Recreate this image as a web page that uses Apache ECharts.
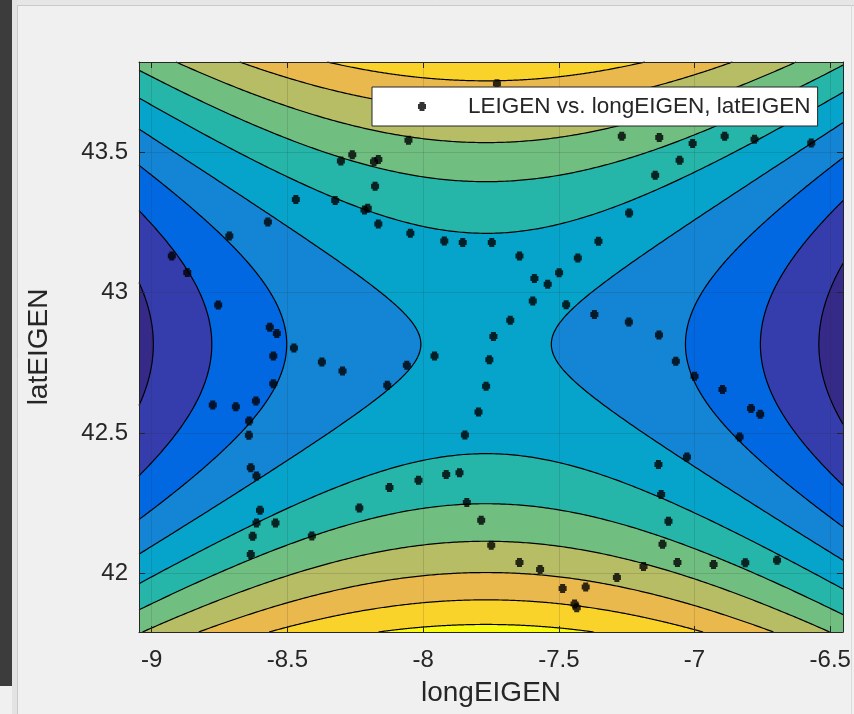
<!DOCTYPE html>
<html>
<head>
<meta charset="utf-8">
<script src="https://cdn.jsdelivr.net/npm/echarts@6/dist/echarts.min.js"></script>
<style>
  html, body { margin: 0; padding: 0; background: #f0f0f0; }
  #chart { width: 854px; height: 714px; }
</style>
</head>
<body>
<div id="chart"></div>
<script>
// ---- measured points ----
const longEIGEN = [
  -7.728, -8.054, -8.261, -8.303, -8.181, -8.165, -8.177, -8.469, -8.324, -8.216,
  -8.204, -8.165, -8.572, -8.047, -7.922, -7.854, -7.747, -8.714, -8.926, -8.869,
  -8.755, -8.565, -8.539, -7.268, -7.130, -7.007, -6.889, -6.779, -6.570, -7.055,
  -7.145, -7.241, -7.354, -7.645, -7.430, -7.499, -7.590, -7.541, -7.596, -7.473,
  -7.679, -7.369, -7.242, -7.741, -7.131, -8.476, -8.552, -8.373, -8.297, -8.060,
  -7.958, -7.756, -8.552, -8.132, -7.768, -8.775, -8.690, -8.616, -8.641, -8.642,
  -7.796, -7.846, -8.635, -8.614, -8.601, -8.614, -8.544, -8.628, -8.635, -8.410,
  -8.235, -8.124, -8.017, -7.915, -7.866, -7.839, -7.786, -7.749, -7.645, -7.569,
  -7.486, -7.401, -7.442, -7.434, -7.286, -7.188, -7.063, -6.930, -6.813, -6.696,
  -7.118, -7.096, -7.123, -7.133, -7.028, -6.834, -6.758, -6.792, -6.897, -7.000,
  -7.069
];
const latEIGEN = [
  43.743, 43.542, 43.490, 43.468, 43.465, 43.473, 43.378, 43.331, 43.327, 43.293,
  43.300, 43.244, 43.251, 43.211, 43.183, 43.178, 43.178, 43.201, 43.130, 43.071,
  42.955, 42.876, 42.854, 43.556, 43.551, 43.530, 43.556, 43.545, 43.532, 43.470,
  43.417, 43.283, 43.182, 43.130, 43.123, 43.070, 43.050, 43.029, 42.970, 42.956,
  42.901, 42.922, 42.895, 42.843, 42.849, 42.802, 42.774, 42.753, 42.721, 42.741,
  42.774, 42.761, 42.675, 42.670, 42.666, 42.600, 42.593, 42.614, 42.543, 42.492,
  42.575, 42.493, 42.376, 42.347, 42.225, 42.180, 42.180, 42.133, 42.068, 42.134,
  42.233, 42.306, 42.332, 42.352, 42.359, 42.253, 42.190, 42.101, 42.039, 42.014,
  41.947, 41.952, 41.892, 41.878, 41.986, 42.025, 42.039, 42.032, 42.038, 42.047,
  42.104, 42.186, 42.281, 42.388, 42.415, 42.486, 42.567, 42.587, 42.655, 42.702,
  42.755
];

// ---- axes ----
const longRange = [-9.0468, -6.453];
const latRange = [41.792, 43.820];
const longTicks = [-9, -8.5, -8, -7.5, -7, -6.5];
const latTicks = [42, 42.5, 43, 43.5];

// ---- fitted LEIGEN surface ----
// saddle centre (longEIGEN, latEIGEN)
const fitCentre = [-7.768, 42.8114];
// coefficient of (long - long0)^2
const fitLongCoef = [-2.0755];
// coefficients of 1, d, d^2, d^3 with d = lat - lat0
const fitLatCoef = [4.12, -0.0528, 5.733, -0.184];
const contourLevels = [1, 2, 3, 4, 5, 6, 7, 8, 9, 10];

// parula bands, lowest to highest
const bandColors = [
  'rgb(53,42,135)', 'rgb(53,61,173)', 'rgb(2,104,225)', 'rgb(20,133,212)',
  'rgb(6,164,202)', 'rgb(37,181,169)', 'rgb(113,191,128)', 'rgb(183,189,100)',
  'rgb(233,185,78)', 'rgb(250,211,42)', 'rgb(249,251,14)'
];

const seriesName = 'LEIGEN vs. longEIGEN, latEIGEN';
const FONT = '"Liberation Sans", Arial, Helvetica, sans-serif';
const INK = '#262626';
const MARKER = 'path://M1.5,0H6.5V2H8V7H6.5V9H1.5V7H0V2H1.5Z';

function leigen(lon, lat) {
  const u = lon - fitCentre[0];
  const v = lat - fitCentre[1];
  const c = fitLatCoef;
  return c[0] + v * (c[1] + v * (c[2] + v * c[3])) + fitLongCoef[0] * u * u;
}

function bisect(f, a, b) {
  let fa = f(a);
  for (let i = 0; i < 50; i++) {
    const m = (a + b) / 2;
    const fm = f(m);
    if ((fm >= 0) === (fa >= 0)) { a = m; fa = fm; } else { b = m; }
  }
  return (a + b) / 2;
}

const SAMPLES = 260;
const saddleValue = leigen(fitCentre[0], fitCentre[1]);

// For a level above the saddle: the regions LEIGEN >= level (top and bottom).
// For a level below the saddle: the regions LEIGEN < level (left and right).
function levelRegions(level) {
  const x0 = fitCentre[0], y0 = fitCentre[1];
  const out = [];
  if (level > saddleValue) {
    [latRange[1], latRange[0]].forEach(function (yEdge) {
      const f = x => leigen(x, yEdge) - level;
      if (f(x0) < 0) return;
      const xa = f(longRange[0]) >= 0 ? longRange[0] : bisect(f, longRange[0], x0);
      const xb = f(longRange[1]) >= 0 ? longRange[1] : bisect(f, x0, longRange[1]);
      const edge = [];
      for (let i = 0; i <= SAMPLES; i++) {
        const x = xa + (xb - xa) * i / SAMPLES;
        edge.push([x, bisect(y => leigen(x, y) - level, y0, yEdge)]);
      }
      out.push({ edge: edge, area: edge.concat([[xb, yEdge], [xa, yEdge]]) });
    });
  } else {
    [longRange[0], longRange[1]].forEach(function (xEdge) {
      const g = y => level - leigen(xEdge, y);
      if (g(y0) <= 0) return;
      const ya = g(latRange[0]) > 0 ? latRange[0] : bisect(g, latRange[0], y0);
      const yb = g(latRange[1]) > 0 ? latRange[1] : bisect(g, y0, latRange[1]);
      const edge = [];
      for (let i = 0; i <= SAMPLES; i++) {
        const y = ya + (yb - ya) * i / SAMPLES;
        edge.push([bisect(x => leigen(x, y) - level, x0, xEdge), y]);
      }
      out.push({ edge: edge, area: edge.concat([[xEdge, yb], [xEdge, ya]]) });
    });
  }
  return out;
}

const baseBand = contourLevels.filter(L => L <= saddleValue).length;

function axisBase(ticks, extra) {
  return Object.assign({
    type: 'value',
    z: 4,
    axisLine: { show: true, onZero: false, lineStyle: { color: INK, width: 1 } },
    axisTick: { show: true, inside: true, length: 6, customValues: ticks, lineStyle: { color: INK, width: 1 } },
    axisLabel: { show: false },
    splitLine: { show: false }
  }, extra);
}

const chart = echarts.init(document.getElementById('chart'), null, { renderer: 'canvas' });

chart.setOption({
  animation: false,
  backgroundColor: '#f0f0f0',
  textStyle: { fontFamily: FONT },
  graphic: [
    { type: 'rect', shape: { x: 0, y: 0, width: 854, height: 5 }, style: { fill: '#e6e6e6' }, z: 0 },
    { type: 'line', shape: { x1: 17, y1: 5.5, x2: 854, y2: 5.5 }, style: { stroke: '#c9c9c9', lineWidth: 1 }, z: 0 },
    { type: 'rect', shape: { x: 0, y: 0, width: 12, height: 686 }, style: { fill: '#3c3c3c' }, z: 1 },
    { type: 'rect', shape: { x: 12, y: 0, width: 5, height: 714 }, style: { fill: '#e3e3e3' }, z: 1 },
    { type: 'line', shape: { x1: 17.5, y1: 5, x2: 17.5, y2: 714 }, style: { stroke: '#c9c9c9', lineWidth: 1 }, z: 1 },
    { type: 'line', shape: { x1: 851.5, y1: 5, x2: 851.5, y2: 714 }, style: { stroke: '#dadada', lineWidth: 1 }, z: 1 }
  ],
  grid: {
    left: 139, right: 11, top: 62, bottom: 82,
    show: true, backgroundColor: bandColors[baseBand], borderWidth: 0,
    outerBoundsMode: 'none', containLabel: false
  },
  legend: {
    show: true,
    left: 372, top: 87,
    padding: [8, 7, 8, 46],
    itemWidth: 8, itemHeight: 9,
    backgroundColor: '#ffffff',
    borderColor: INK, borderWidth: 1, borderRadius: 0,
    selectedMode: false,
    z: 10,
    textStyle: { fontSize: 22.5, color: INK, fontFamily: FONT, padding: [0, 0, 0, 37] },
    data: [{ name: seriesName, icon: MARKER }]
  },
  xAxis: [
    axisBase(longTicks, {
      position: 'bottom', min: longRange[0], max: longRange[1],
      name: 'longEIGEN', nameLocation: 'middle', nameGap: 47,
      nameTextStyle: { fontSize: 28, color: INK, fontFamily: FONT },
      axisLabel: { show: true, customValues: longTicks, fontSize: 24, color: INK, margin: 16, fontFamily: FONT },
      splitLine: { show: true, lineStyle: { color: 'rgba(38,38,38,0.15)', width: 1 } }
    }),
    axisBase(longTicks, { position: 'top', min: longRange[0], max: longRange[1] })
  ],
  yAxis: [
    axisBase(latTicks, {
      position: 'left', min: latRange[0], max: latRange[1],
      name: 'latEIGEN', nameLocation: 'middle', nameGap: 86,
      nameTextStyle: { fontSize: 28, color: INK, fontFamily: FONT },
      axisLabel: { show: true, customValues: latTicks, fontSize: 24, color: INK, margin: 11, fontFamily: FONT },
      splitLine: { show: true, lineStyle: { color: 'rgba(38,38,38,0.15)', width: 1 } }
    }),
    axisBase(latTicks, { position: 'right', min: latRange[0], max: latRange[1] })
  ],
  series: [
    {
      type: 'custom',
      name: 'LEIGEN fit',
      coordinateSystem: 'cartesian2d',
      xAxisIndex: 0, yAxisIndex: 0,
      silent: true,
      z: 2,
      encode: { x: 0, y: 1 },
      data: contourLevels.map((L, k) => [fitCentre[0], fitCentre[1], L, k]),
      renderItem: function (params, api) {
        const k = api.value(3);
        const level = contourLevels[k];
        const above = level > saddleValue;
        const fill = above ? bandColors[k + 1] : bandColors[k];
        const children = [];
        levelRegions(level).forEach(function (r) {
          children.push({
            type: 'polygon',
            z2: above ? 10 + k : 40 - k,
            shape: { points: r.area.map(p => api.coord(p)) },
            style: { fill: fill }
          });
          children.push({
            type: 'polyline',
            z2: 60,
            shape: { points: r.edge.map(p => api.coord(p)) },
            style: { stroke: '#000000', lineWidth: 1.2, fill: null }
          });
        });
        return { type: 'group', children: children };
      }
    },
    {
      type: 'scatter',
      name: seriesName,
      xAxisIndex: 0, yAxisIndex: 0,
      symbol: MARKER,
      symbolSize: [8, 9],
      itemStyle: { color: '#000000' },
      silent: true,
      z: 3,
      data: longEIGEN.map((x, i) => [x, latEIGEN[i]])
    }
  ]
});
</script>
</body>
</html>
